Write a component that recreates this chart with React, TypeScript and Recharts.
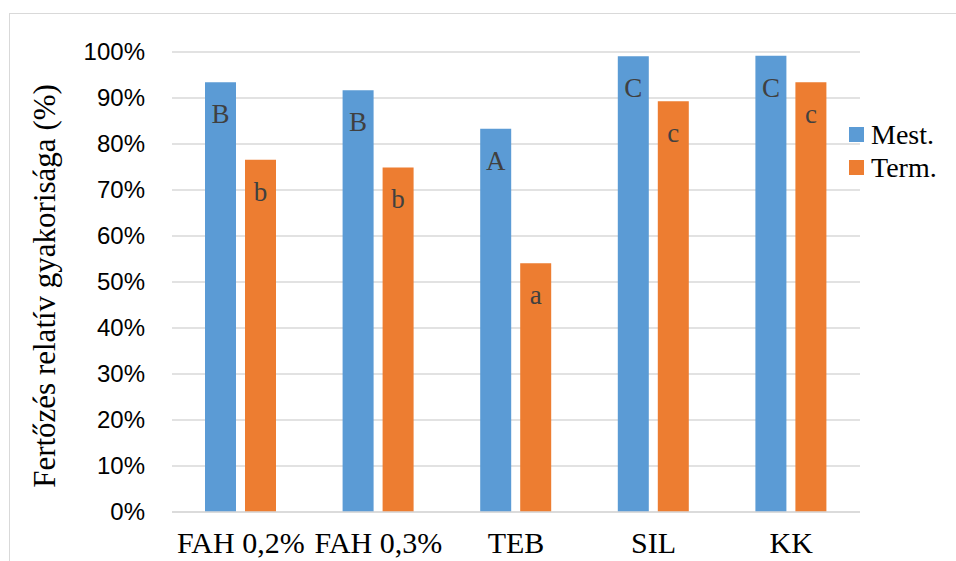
import { BarChart, Bar, XAxis, YAxis, CartesianGrid, Legend, LabelList } from 'recharts';

const categories = ['FAH 0,2%', 'FAH 0,3%', 'TEB', 'SIL', 'KK'];
const mestValues = [93.4, 91.7, 83.3, 99.1, 99.2];
const termValues = [76.6, 74.9, 54.1, 89.3, 93.4];
const mestLetters = ['B', 'B', 'A', 'C', 'C'];
const termLetters = ['b', 'b', 'a', 'c', 'c'];
const yTicks = [0, 10, 20, 30, 40, 50, 60, 70, 80, 90, 100];

const data = categories.map((name, i) => ({
  name,
  mest: mestValues[i],
  term: termValues[i],
  mestL: mestLetters[i],
  termL: termLetters[i],
}));

const SERIF = '"Liberation Serif", "Times New Roman", serif';
const SANS = '"Liberation Sans", Arial, sans-serif';

// betű a sáv tetejétől lefelé
const letterLabel = (props: any) => {
  const { x, y, width, value } = props;
  return (
    <text x={x + width / 2} y={y + 41} textAnchor="middle" style={{ fontFamily: SERIF, fontSize: 27 }} fill="#404040">
      {value}
    </text>
  );
};

const xTick = (props: any) => {
  const { x, y, payload } = props;
  return (
    <text x={x} y={y + 33} textAnchor="middle" style={{ fontFamily: SERIF, fontSize: 30 }} fill="#000">
      {payload.value}
    </text>
  );
};

const yTick = (props: any) => {
  const { x, y, payload } = props;
  return (
    <text x={x} y={y + 8} textAnchor="end" style={{ fontFamily: SANS, fontSize: 24 }} fill="#000">
      {`${payload.value}%`}
    </text>
  );
};

const renderLegend = (props: any) => {
  const { payload } = props;
  return (
    <div>
      {payload.map((p: any) => (
        <div key={p.value} style={{ display: 'flex', alignItems: 'center', height: 33 }}>
          <span style={{ width: 15, height: 15, background: p.color, display: 'inline-block', marginRight: 7 }} />
          <span style={{ fontFamily: SERIF, fontSize: 28, color: '#000' }}>{p.value}</span>
        </div>
      ))}
    </div>
  );
};

export default function App() {
  return (
    <div style={{ position: 'absolute', left: 0, top: 0, width: 956, height: 561, overflow: 'hidden', background: '#fff', fontFamily: SERIF }}>
      <div style={{ position: 'absolute', left: 9, top: 13, width: 960, height: 600, border: '1px solid #d9d9d9' }} />
      <div style={{ position: 'absolute', left: 0, top: 0 }}>
        <BarChart
          width={956}
          height={561}
          data={data}
          margin={{ top: 52, right: 96, bottom: 0, left: 0 }}
          barGap={9}
          barSize={31}
        >
          <CartesianGrid horizontal vertical={false} stroke="#d9d9d9" strokeWidth={1.5} />
          <XAxis
            dataKey="name"
            height={49}
            axisLine={{ stroke: '#d9d9d9', strokeWidth: 1.5 }}
            tickLine={false}
            tickSize={6}
            tickMargin={2}
            tick={xTick}
            interval={0}
          />
          <YAxis
            width={172}
            domain={[0, 100]}
            ticks={yTicks}
            axisLine={false}
            tickLine={false}
            tickSize={6}
            tickMargin={21}
            tick={yTick}
            label={{
              content: () => (
                <text x={44} y={286} transform="rotate(-90 44 286)" textAnchor="middle" dominantBaseline="central" style={{ fontFamily: SERIF, fontSize: 31 }} fill="#000">
                  Fertőzés relatív gyakorisága (%)
                </text>
              ),
            }}
          />
          <Legend
            layout="vertical"
            align="center"
            verticalAlign="middle"
            content={renderLegend}
            wrapperStyle={{ position: 'absolute', left: 849, top: 118, width: 107 }}
          />
          <Bar dataKey="mest" name="Mest." fill="#5b9bd5" isAnimationActive={false}>
            <LabelList dataKey="mestL" content={letterLabel} />
          </Bar>
          <Bar dataKey="term" name="Term." fill="#ed7d31" isAnimationActive={false}>
            <LabelList dataKey="termL" content={letterLabel} />
          </Bar>
        </BarChart>
      </div>
    </div>
  );
}
